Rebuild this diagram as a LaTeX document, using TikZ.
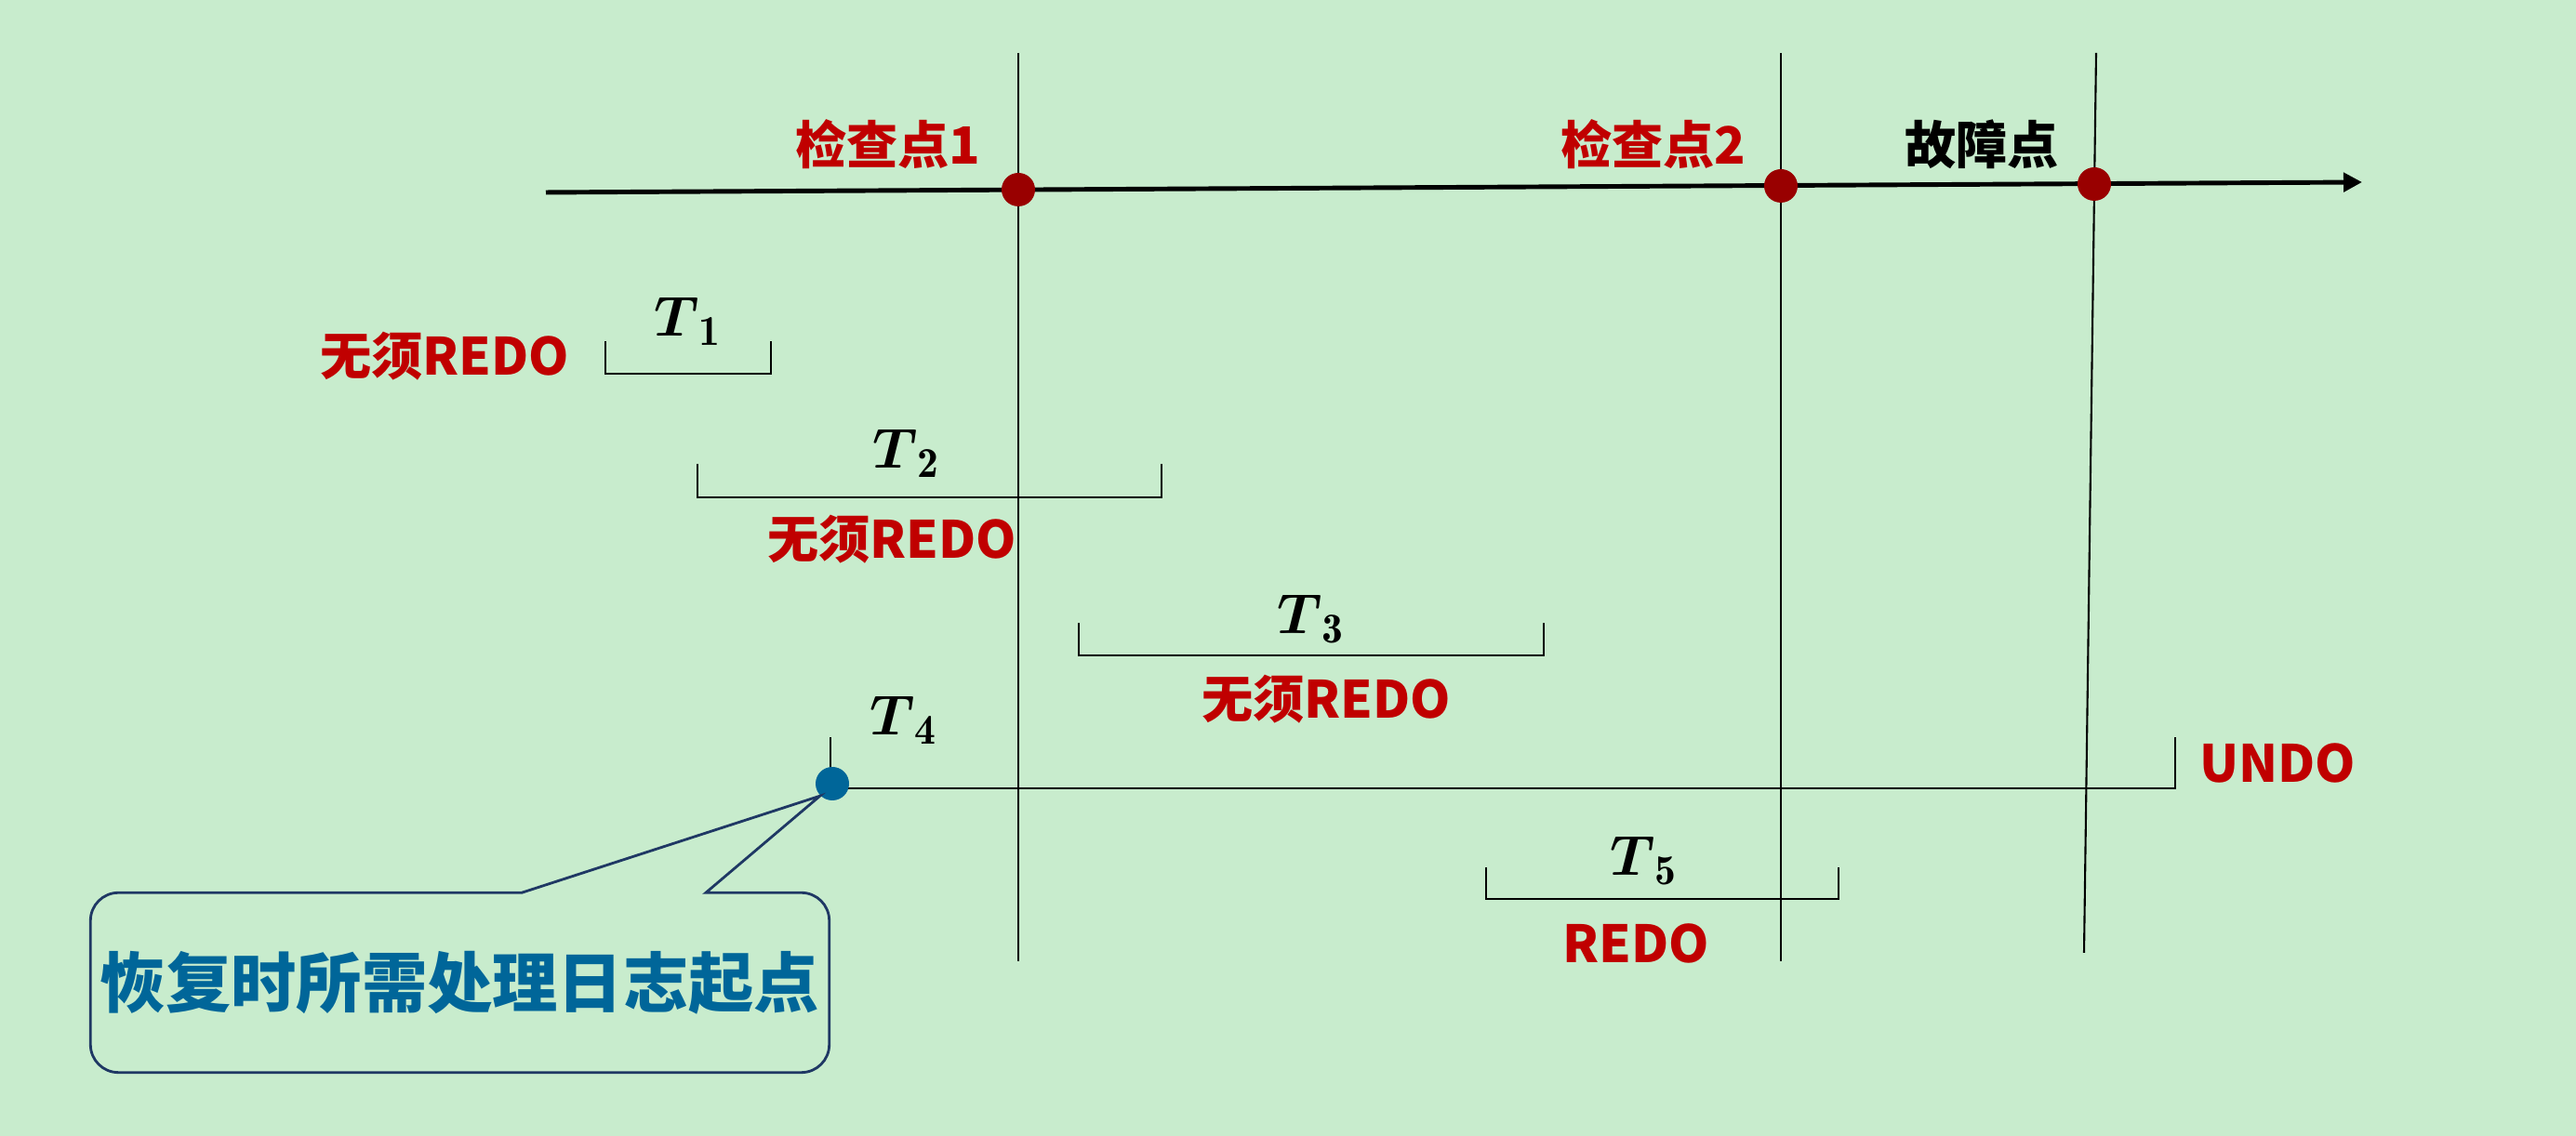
\documentclass[tikz,border=0pt]{standalone}
\usepackage{amsmath,amssymb}
\usepackage{fontspec}
\newfontfamily\cjk{Noto Sans CJK SC}
\usepackage{tikz}
\usetikzlibrary{arrows.meta}
\DeclareMathSizes{17}{17}{13}{10}
\definecolor{bggreen}{RGB}{200,236,205}
\definecolor{redtxt}{RGB}{192,0,0}
\definecolor{dotred}{RGB}{153,0,0}
\definecolor{startblue}{RGB}{0,102,153}
\definecolor{navy}{RGB}{31,56,100}

\begin{document}
\begin{tikzpicture}[
  lbl/.style={font={\cjk\bfseries\fontsize{15.7}{19}\selectfont}, text=redtxt, inner sep=0pt},
  tlbl/.style={font={\fontsize{17}{20}\selectfont}, anchor=base, inner sep=0pt},
  ckdot/.style={circle, fill=dotred, inner sep=0pt, minimum size=0.36cm},
  timeline/.style={line width=1.4pt, -{Triangle[length=0.2cm,width=0.2cm]}},
  vline/.style={line width=0.6pt},
  span/.style={line width=0.8pt},
  note/.style={font={\cjk\bfseries\fontsize{20}{24}\selectfont}, text=startblue, inner sep=0pt,
    minimum width=7.93cm, minimum height=1.92cm}
]
\fill[bggreen] (0,0) rectangle (27.70,12.22);

% checkpoint and failure lines
\coordinate (c1top) at (10.95,11.65);
\coordinate (c1bot) at (10.95,1.88);
\coordinate (c2top) at (19.15,11.65);
\coordinate (c2bot) at (19.15,1.88);
\coordinate (ftop) at (22.54,11.65);
\coordinate (fbot) at (22.41,1.97);
\draw[vline] (c1top) -- (c1bot);
\draw[vline] (c2top) -- (c2bot);
\draw[vline] (ftop) -- (fbot);

\coordinate (tstart) at (5.87,10.15);
\coordinate (tend) at (25.40,10.26);
\draw[timeline] (tstart) -- (tend);

\node[ckdot] (c1) at (10.95,10.18) {};
\node[ckdot] (c2) at (19.15,10.22) {};
\node[ckdot] (fail) at (22.52,10.24) {};

\node[lbl] (lc1) at (9.55,10.67) {检查点1};
\node[lbl] (lc2) at (17.78,10.67) {检查点2};
\node[lbl, text=black] (lfail) at (21.31,10.67) {故障点};

% transactions
\draw[span] (6.51,8.55) -- (6.51,8.20) -- (8.29,8.20) -- (8.29,8.55);
\node[tlbl] (t1) at (7.40,8.60) {$\boldsymbol{T}_{\mathbf{1}}$};
\node[lbl] (r1) at (4.78,8.39) {无须REDO};

\draw[span] (7.50,7.23) -- (7.50,6.87) -- (12.49,6.87) -- (12.49,7.23);
\node[tlbl] (t2) at (9.75,7.18) {$\boldsymbol{T}_{\mathbf{2}}$};
\node[lbl] (r2) at (9.59,6.42) {无须REDO};

\draw[span] (11.60,5.52) -- (11.60,5.17) -- (16.60,5.17) -- (16.60,5.52);
\node[tlbl] (t3) at (14.10,5.40) {$\boldsymbol{T}_{\mathbf{3}}$};
\node[lbl] (r3) at (14.26,4.70) {无须REDO};

\draw[span] (8.93,4.29) -- (8.93,3.74) -- (23.39,3.74) -- (23.39,4.29);
\node[tlbl] (t4) at (9.72,4.31) {$\boldsymbol{T}_{\mathbf{4}}$};
\node[lbl] (r4) at (24.49,4.01) {UNDO};
\node[circle, fill=startblue, inner sep=0pt, minimum size=0.36cm] (start) at (8.95,3.79) {};

\draw[span] (15.98,2.89) -- (15.98,2.55) -- (19.77,2.55) -- (19.77,2.89);
\node[tlbl] (t5) at (17.68,2.80) {$\boldsymbol{T}_{\mathbf{5}}$};
\node[lbl] (r5) at (17.59,2.07) {REDO};

% callout
\node[note] (note) at (4.945,1.65) {恢复时所需处理日志起点};
\draw[line width=0.8pt, navy] ([xshift=0.665cm]note.north) -- (start.south west)
  -- ([xshift=2.645cm]note.north) -- ([xshift=-0.3cm]note.north east)
  arc[start angle=90, end angle=0, radius=0.3cm] -- ([yshift=0.3cm]note.south east)
  arc[start angle=0, end angle=-90, radius=0.3cm] -- ([xshift=0.3cm]note.south west)
  arc[start angle=270, end angle=180, radius=0.3cm] -- ([yshift=-0.3cm]note.north west)
  arc[start angle=180, end angle=90, radius=0.3cm] -- cycle;
\end{tikzpicture}
\end{document}
